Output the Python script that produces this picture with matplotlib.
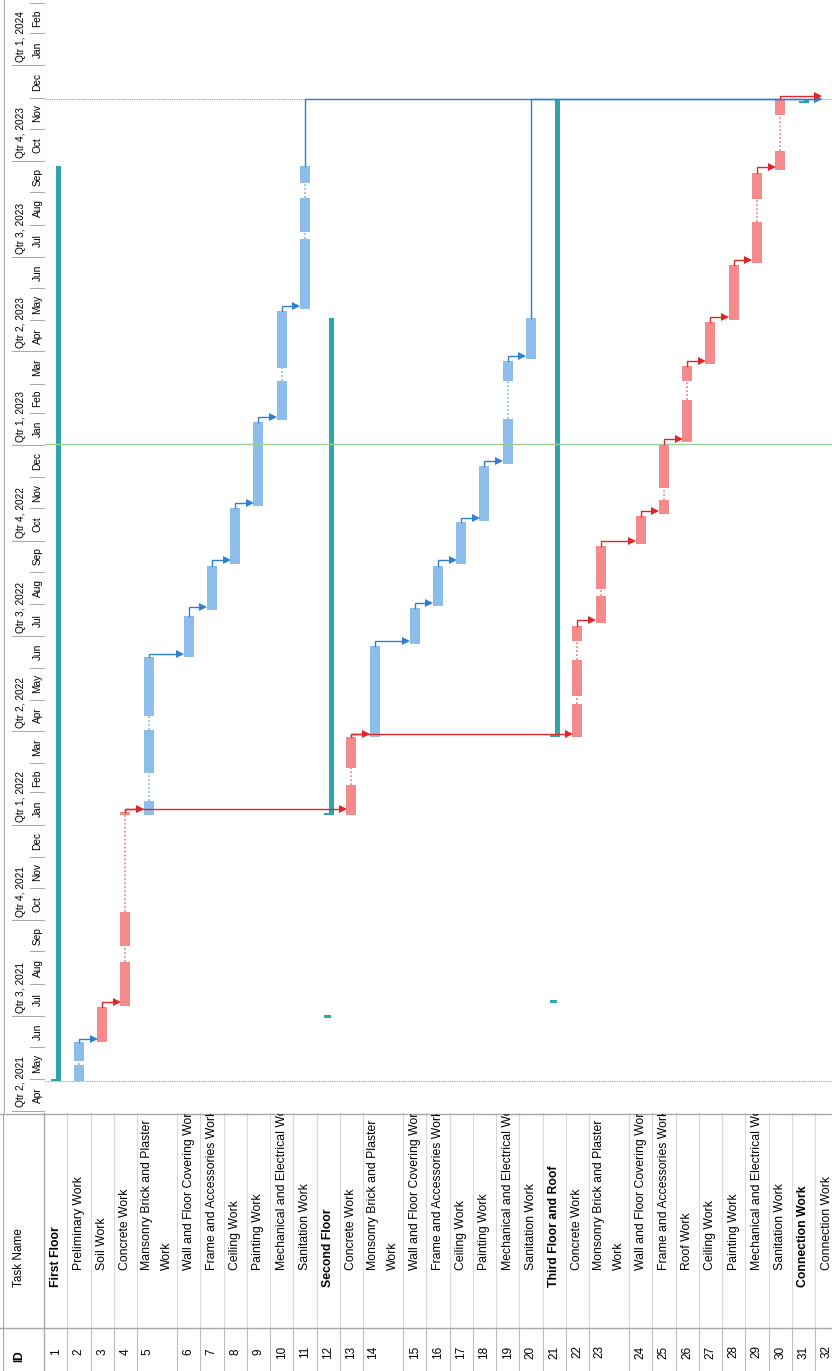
import numpy as np
import pandas as pd
import matplotlib
matplotlib.use("Agg")
import matplotlib.pyplot as plt
import matplotlib.dates as mdates
from matplotlib.transforms import Bbox, TransformedBbox

# DATA
task_ids = list(range(1, 33))
task_names = [
    "First Floor", "Preliminary Work", "Soil Work", "Concrete Work",
    "Mansonry Brick and Plaster\nWork", "Wall and Floor Covering Work",
    "Frame and Accessories Work", "Ceiling Work", "Painting Work",
    "Mechanical and Electrical Work", "Sanitation Work",
    "Second Floor", "Concrete Work", "Monsonry Brick and Plaster\nWork",
    "Wall and Floor Covering Work", "Frame and Accessories Work", "Ceiling Work",
    "Painting Work", "Mechanical and Electrical Work", "Sanitation Work",
    "Third Floor and Roof", "Concrete Work", "Monsonry Brick and Plaster\nWork",
    "Wall and Floor Covering Work", "Frame and Accessories Work", "Roof Work",
    "Ceiling Work", "Painting Work", "Mechanical and Electrical Work",
    "Sanitation Work", "Connection Work", "Connection Work",
]
summary_ids = [1, 12, 21, 31]
critical_ids = [3, 4, 13, 22, 23, 24, 25, 26, 27, 28, 29, 30]

# segments of every task (split tasks have several)
segments = {
    1: [("2021-04-29", "2023-09-26")],
    2: [("2021-04-29", "2021-05-15"), ("2021-05-19", "2021-06-06")],
    3: [("2021-06-06", "2021-07-10")],
    4: [("2021-07-11", "2021-08-22"), ("2021-09-06", "2021-10-09"), ("2022-01-10", "2022-01-13")],
    5: [("2022-01-10", "2022-01-24"), ("2022-02-20", "2022-04-02"), ("2022-04-15", "2022-06-11")],
    6: [("2022-06-11", "2022-07-21")],
    7: [("2022-07-26", "2022-09-07")],
    8: [("2022-09-09", "2022-11-01")],
    9: [("2022-11-03", "2023-01-23")],
    10: [("2023-01-25", "2023-03-04"), ("2023-03-16", "2023-05-10")],
    11: [("2023-05-12", "2023-07-18"), ("2023-07-25", "2023-08-27"), ("2023-09-10", "2023-09-26")],
    12: [("2022-01-10", "2023-05-03")],
    13: [("2022-01-10", "2022-02-08"), ("2022-02-24", "2022-03-26")],
    14: [("2022-03-26", "2022-06-22")],
    15: [("2022-06-24", "2022-07-28")],
    16: [("2022-07-30", "2022-09-07")],
    17: [("2022-09-09", "2022-10-19")],
    18: [("2022-10-20", "2022-12-12")],
    19: [("2022-12-14", "2023-01-26"), ("2023-03-04", "2023-03-23")],
    20: [("2023-03-25", "2023-05-03")],
    21: [("2022-03-26", "2023-11-30")],
    22: [("2022-03-26", "2022-04-27"), ("2022-05-05", "2022-06-08"), ("2022-06-27", "2022-07-11")],
    23: [("2022-07-14", "2022-08-09"), ("2022-08-16", "2022-09-26")],
    24: [("2022-09-28", "2022-10-25")],
    25: [("2022-10-27", "2022-11-09"), ("2022-11-21", "2023-01-02")],
    26: [("2023-01-04", "2023-02-13"), ("2023-03-04", "2023-03-18")],
    27: [("2023-03-20", "2023-04-29")],
    28: [("2023-05-01", "2023-06-23")],
    29: [("2023-06-25", "2023-08-03"), ("2023-08-26", "2023-09-20")],
    30: [("2023-09-22", "2023-10-11"), ("2023-11-14", "2023-11-30")],
    31: [("2023-11-26", "2023-11-30")],
    32: [("2023-11-27", "2023-11-27")],
}

links = [(2, 3), (3, 4), (4, 5), (4, 13), (5, 6), (6, 7), (7, 8), (8, 9), (9, 10),
         (10, 11), (11, 32), (13, 14), (13, 22), (14, 15), (15, 16), (16, 17),
         (17, 18), (18, 19), (19, 20), (20, 32), (22, 23), (23, 24), (24, 25),
         (25, 26), (26, 27), (27, 28), (28, 29), (29, 30), (30, 32)]

summary_marks = {12: "2021-06-29", 21: "2021-07-13"}

project_start = "2021-04-29"
project_finish = "2023-11-30"
status_date = "2023-01-02"

view_start = "2021-03-29 17:00"
view_end = "2024-03-03 22:00"

# STYLE
W, H = 832, 1371
blue = "#8DBDEB"
red = "#F48A8C"
teal = "#2FA5AA"
blue_link = "#2F7FD6"
red_link = "#E0262B"
grid_light = "#D9D9D9"
grid_dark = "#A8A8A8"
font = "Liberation Sans"

row_h = np.full(32, 23.25)
row_h[[4, 13, 22]] = 40
row_left = 44 + np.concatenate([[0], np.cumsum(row_h)[:-1]])

def d(s):
    return mdates.datestr2num(s)

fig = plt.figure(figsize=(W / 100, H / 100), dpi=100)
fig.patch.set_facecolor("white")

chart_bottom = 1113

# GANTT AREA (rotated: rows along x, time along y)
ax = fig.add_axes([45 / W, 1 - chart_bottom / H, (W - 45) / W, chart_bottom / H])
ax.set_xlim(45, W)
ax.set_ylim(d(view_start), d(view_end))
ax.axis("off")

ax.axhline(d(project_start), color="#9A9A9A", lw=0.8, ls=(0, (1, 1)))
ax.axhline(d(project_finish), color="#9A9A9A", lw=0.8, ls=(0, (1, 1)))
ax.axhline(d(status_date), color="#9CCB9C", lw=1.0)

for tid in task_ids:
    i = tid - 1
    segs = [(d(s), d(e)) for s, e in segments[tid]]
    if tid in summary_ids:
        s, e = segs[0]
        ax.bar(row_left[i] + 12, e - s, bottom=s, width=5, align="edge", color=teal, lw=0)
        ax.bar(row_left[i] + 7, 2, bottom=s, width=5, align="edge", color=teal, lw=0)
        continue
    col = red if tid in critical_ids else blue
    xc = row_left[i] + 11.5
    for k, (s, e) in enumerate(segs):
        if e > s:
            ax.bar(row_left[i] + 6.5, e - s, bottom=s, width=10, align="edge",
                   color=col, lw=0)
        if k > 0:
            ax.plot([xc, xc], [segs[k - 1][1], s], color=col, lw=1.3, ls=(0, (1, 1.2)))

for tid, ds in summary_marks.items():
    ax.bar(row_left[tid - 1] + 7, 3, bottom=d(ds), width=7, align="edge", color=teal, lw=0)

for p, s in links:
    p_end = d(segments[p][-1][1])
    s_start = d(segments[s][0][0])
    y_link = max(p_end, s_start) + 3
    px = row_left[p - 1] + 11.5
    sx = row_left[s - 1] + 6.5
    col = red_link if p in critical_ids else blue_link
    ax.plot([px, px, sx - 3], [p_end, y_link, y_link], color=col, lw=1.0,
            solid_joinstyle="miter")
    ax.plot(sx - 3.5, y_link, marker=">", ms=5.5, color=col, mew=0)

# TIMESCALE
hx = fig.add_axes([0, 1 - chart_bottom / H, 45 / W, chart_bottom / H])
hx.set_xlim(0, 45)
hx.set_ylim(d(view_start), d(view_end))
hx.axis("off")
hx.axvline(4, color=grid_dark, lw=0.8)
hx.axvline(44.6, color=grid_dark, lw=0.8)

months = pd.date_range("2021-03-01", "2024-03-01", freq="MS")
for m in months:
    y0 = mdates.date2num(m)
    y1 = mdates.date2num(m + pd.offsets.MonthBegin(1))
    hx.plot([30, 44.6], [y0, y0], color=grid_dark, lw=0.7)
    if m < pd.Timestamp("2024-03-01"):
        hx.text(37.5, (y0 + y1) / 2, m.strftime("%b"), rotation=90, rotation_mode="anchor",
                ha="center", va="center", fontsize=7.3, family=font, clip_on=True)
    if m.month in (1, 4, 7, 10):
        hx.plot([12, 30], [y0, y0], color=grid_dark, lw=0.7)
        q = (m.month - 1) // 3 + 1
        hx.text(21, y0 + 3, f"Qtr {q}, {m.year}", rotation=90, rotation_mode="anchor",
                ha="left", va="center", fontsize=7.3, family=font, clip_on=True)

# TABLE
tx = fig.add_axes([0, 0, 1, (H - chart_bottom) / H])
tx.set_xlim(0, W)
tx.set_ylim(H, chart_bottom)
tx.axis("off")

id_sep = 1328
for xl in np.append(row_left[1:], row_left[-1] + row_h[-1]):
    tx.plot([xl, xl], [chart_bottom, id_sep], color=grid_light, lw=0.8)
    tx.plot([xl, xl], [id_sep, H], color="#BDBDBD", lw=0.8)
tx.plot([0, W], [chart_bottom + 0.5, chart_bottom + 0.5], color=grid_dark, lw=1.0)
tx.plot([0, W], [id_sep, id_sep], color=grid_dark, lw=1.0)
tx.plot([44, 44], [chart_bottom, H], color=grid_dark, lw=1.0)
tx.plot([3, 3], [chart_bottom, H], color=grid_dark, lw=0.8)

tx.text(19, 1287, "Task Name", rotation=90, rotation_mode="anchor", ha="left",
        va="center", fontsize=8.5, family=font)
tx.text(19, 1362, "ID", rotation=90, rotation_mode="anchor", ha="left",
        va="center", fontsize=8.5, family=font, fontweight="bold")

name_box = TransformedBbox(Bbox([[44, id_sep], [W, chart_bottom + 1]]), tx.transData)

for tid, name in zip(task_ids, task_names):
    i = tid - 1
    bold = tid in summary_ids
    y_start = 1287 if bold else 1270
    lines = name.split("\n")
    if len(lines) == 1:
        xs = [row_left[i] + 11.6]
    else:
        xs = [row_left[i] + 10, row_left[i] + 30]
    for xv, ln in zip(xs, lines):
        t = tx.text(xv, y_start, ln, rotation=90, rotation_mode="anchor", ha="left",
                    va="center", fontsize=8.8, family=font,
                    fontweight="bold" if bold else "normal")
        t.set_clip_box(name_box)
        t.set_clip_on(True)
    tx.text(xs[0], 1352, str(tid), rotation=90, rotation_mode="anchor", ha="center",
            va="center", fontsize=8.5, family=font)

plt.savefig("out.png", dpi=100)
